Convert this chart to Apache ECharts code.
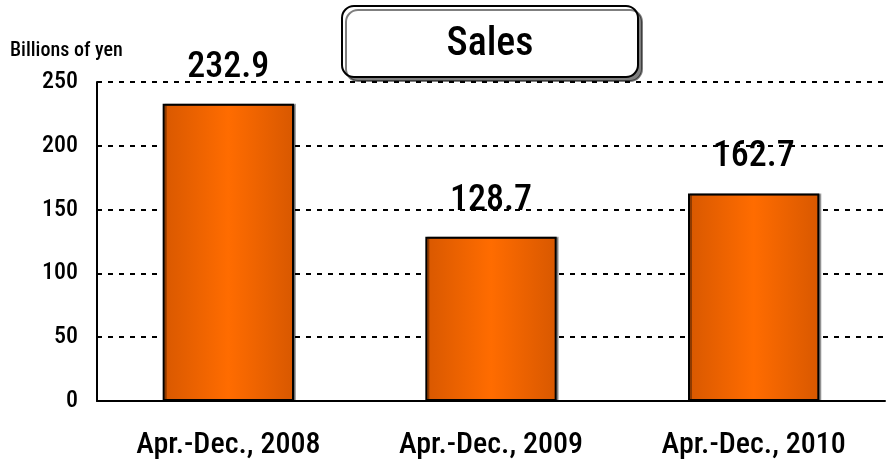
<!DOCTYPE html>
<html><head><meta charset="utf-8">
<script src="https://cdn.jsdelivr.net/npm/echarts@6/dist/echarts.min.js"></script>
<style>html,body{margin:0;padding:0;background:#fff}#c{width:887px;height:463px}</style>
</head><body><div id="c"></div>
<script>
const categories = ['Apr.-Dec., 2008', 'Apr.-Dec., 2009', 'Apr.-Dec., 2010'];
const sales = [232.9, 128.7, 162.7];
const yTicks = [0, 50, 100, 150, 200, 250];
const titleText = 'Sales';
const unitText = 'Billions of yen';

const FONT = '"Roboto Condensed", "Open Sans Condensed", "Liberation Sans", sans-serif';
const W = '500';
const chart = echarts.init(document.getElementById('c'));
chart.setOption({
  animation: false,
  backgroundColor: '#fff',
  grid: { left: 97, right: 2, top: 82, bottom: 62, containLabel: false },
  xAxis: {
    type: 'category', data: categories,
    axisLine: { lineStyle: { color: '#000', width: 2 } },
    axisTick: { inside: true, length: 9, lineStyle: { color: '#000', width: 2 } },
    axisLabel: { color: '#000', fontFamily: FONT, fontWeight: W, fontSize: 30, margin: 29 }
  },
  yAxis: {
    type: 'value', min: yTicks[0], max: yTicks[yTicks.length - 1], interval: 50,
    axisLine: { show: true, lineStyle: { color: '#000', width: 2 } },
    axisTick: { show: false },
    axisLabel: { color: '#000', fontFamily: FONT, fontWeight: W, fontSize: 24, margin: 19 },
    splitLine: { show: true, lineStyle: { color: '#000', width: 2, type: [5, 6] } }
  },
  graphic: [
    { type: 'text', left: 10, top: 41, style: { text: unitText, fill: '#000', font: W + ' 20px ' + FONT } },
    { type: 'rect', shape: { x: 342, y: 6, width: 296, height: 71, r: 12 },
      style: { fill: '#fff', stroke: '#000', lineWidth: 2, shadowColor: 'rgba(0,0,0,0.5)', shadowOffsetX: 4, shadowOffsetY: 4, shadowBlur: 0 }, z: 10 },
    { type: 'text', x: 490, y: 45, style: { text: titleText, fill: '#000', font: W + ' 40px ' + FONT, align: 'center', verticalAlign: 'middle' }, z: 11 }
  ],
  series: [{
    type: 'bar', data: sales, barWidth: '50%',
    itemStyle: {
      color: { type: 'linear', x: 0, y: 0, x2: 1, y2: 0, colorStops: [
        { offset: 0, color: '#d85800' }, { offset: 0.5, color: '#ff6c00' }, { offset: 1, color: '#d85800' } ] },
      borderColor: '#000', borderWidth: 2,
      shadowColor: 'rgba(0,0,0,0.35)', shadowOffsetX: 2, shadowOffsetY: 0, shadowBlur: 0
    },
    label: { show: true, position: 'top', distance: 18, color: '#000', fontFamily: FONT, fontWeight: W, fontSize: 36,
      formatter: p => p.value.toFixed(1) }
  }]
});
</script></body></html>
